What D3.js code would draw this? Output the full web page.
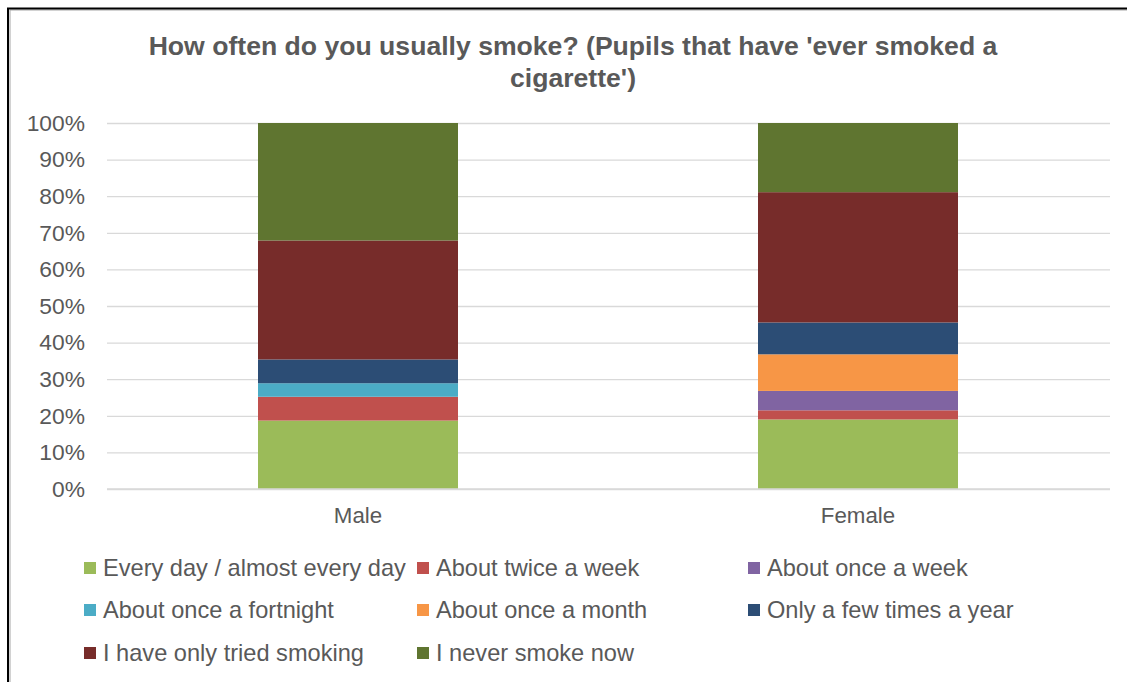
<!DOCTYPE html>
<html>
<head>
<meta charset="utf-8">
<script src="https://cdn.jsdelivr.net/npm/d3@7"></script>
<style>
  html, body { margin: 0; padding: 0; background: #fff; }
  svg { display: block; font-family: "Liberation Sans", Arial, sans-serif; }
</style>
</head>
<body>
<svg id="chart" width="1127" height="682"></svg>
<script>
// ---- data ----
const categories = ["Male", "Female"];
const seriesNames = [
  "Every day / almost every day",
  "About twice a week",
  "About once a week",
  "About once a fortnight",
  "About once a month",
  "Only a few times a year",
  "I have only tried smoking",
  "I never smoke now"
];
const maleValues   = [18.7, 6.5, 0.0, 3.7, 0.0, 6.5, 32.5, 32.1];
const femaleValues = [19.0, 2.5, 5.3, 0.0, 10.0, 8.7, 35.6, 18.9];
const seriesColors = ["#9bbb59", "#c0504d", "#8064a2", "#4bacc6", "#f79646", "#2c4d75", "#772c2a", "#5f7530"];
const yTicks = [0, 10, 20, 30, 40, 50, 60, 70, 80, 90, 100];
const titleLines = ["How often do you usually smoke? (Pupils that have 'ever smoked a", "cigarette')"];

// ---- build table ----
const valuesByCat = { Male: maleValues, Female: femaleValues };
const table = categories.map(c => {
  const row = { cat: c };
  seriesNames.forEach((s, i) => row[s] = valuesByCat[c][i]);
  return row;
});
const stack = d3.stack().keys(seriesNames);
const stacked = stack(table);

const svg = d3.select("#chart");

// outer frame
svg.append("rect").attr("x", 10).attr("y", 10).attr("width", 1200).attr("height", 800)
  .attr("fill", "none").attr("stroke", "#a6a6a6").attr("stroke-width", 1);
svg.append("rect").attr("x", 8).attr("y", 8.5).attr("width", 1200).attr("height", 800)
  .attr("fill", "none").attr("stroke", "#000").attr("stroke-width", 2);

// scales
const x = d3.scaleBand().domain(categories).range([108, 1108]).paddingInner(0.6).paddingOuter(0.3);
const y = d3.scaleLinear().domain([0, 100]).range([489, 123]);

// y axis + gridlines
const yAxis = d3.axisLeft(y).tickValues(yTicks).tickFormat(d => d + "%").tickSize(-1003).tickPadding(22);
const gy = svg.append("g").attr("transform", "translate(107,0)").call(yAxis);
gy.select(".domain").remove();
gy.selectAll(".tick line").attr("stroke", "#d9d9d9").attr("stroke-width", 1.3);
gy.selectAll(".tick text").attr("fill", "#595959").style("font-size", "22.8px")
  .style("font-family", "'Liberation Sans', Arial, sans-serif");

// bars
svg.append("g").selectAll("g").data(stacked).join("g")
  .attr("fill", (d, i) => seriesColors[i])
  .selectAll("rect").data(d => d).join("rect")
  .attr("x", d => x(d.data.cat))
  .attr("width", x.bandwidth())
  .attr("y", d => y(d[1]))
  .attr("height", d => y(d[0]) - y(d[1]));

// baseline
svg.append("line").attr("x1", 107).attr("x2", 1110).attr("y1", y(0)).attr("y2", y(0))
  .attr("stroke", "#d9d9d9").attr("stroke-width", 1.3);

// x axis labels
const xAxis = d3.axisBottom(x).tickSize(0).tickPadding(18);
const gx = svg.append("g").attr("transform", `translate(0,${y(0)})`).call(xAxis);
gx.select(".domain").remove();
gx.selectAll(".tick text").attr("fill", "#595959").style("font-size", "22.3px")
  .style("font-family", "'Liberation Sans', Arial, sans-serif");

// title
svg.append("g").selectAll("text").data(titleLines).join("text")
  .attr("x", 573).attr("y", (d, i) => 54.5 + i * 32)
  .attr("text-anchor", "middle")
  .attr("fill", "#595959")
  .style("font-size", "26.6px").style("font-weight", "bold")
  .text(d => d);

// legend
const legendCols = [84, 417, 748];
const legendRows = [568, 610, 653];
const legend = svg.append("g").selectAll("g").data(seriesNames).join("g")
  .attr("transform", (d, i) => `translate(${legendCols[i % 3]},${legendRows[Math.floor(i / 3)]})`);
legend.append("rect").attr("x", 0).attr("y", -6).attr("width", 12).attr("height", 12)
  .attr("fill", (d, i) => seriesColors[i]);
legend.append("text").attr("x", 19).attr("y", 8.3)
  .attr("fill", "#595959").style("font-size", "23.6px")
  .text(d => d);
</script>
</body>
</html>
